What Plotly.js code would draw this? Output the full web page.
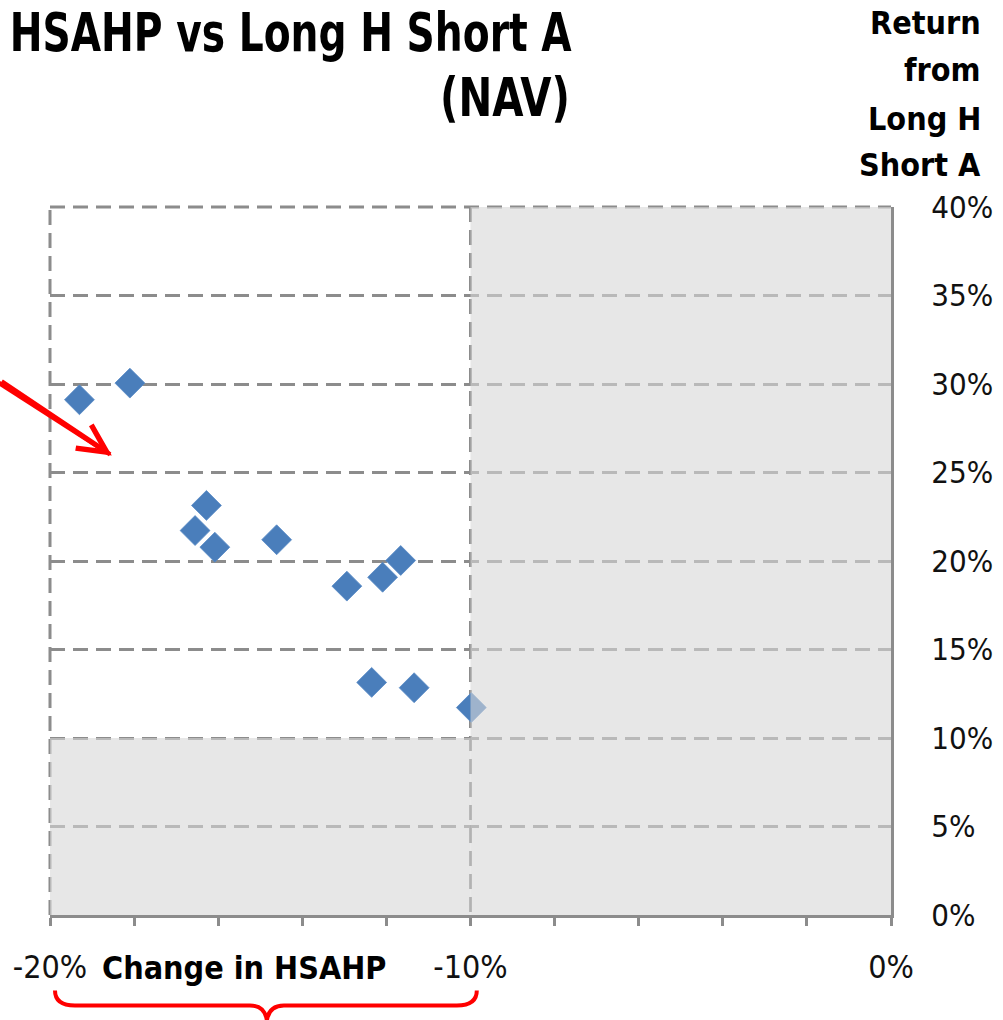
<!DOCTYPE html>
<html>
<head>
<meta charset="utf-8">
<script src="https://cdn.plot.ly/plotly-3.0.1.min.js"></script>
<style>
  html, body { margin: 0; padding: 0; background: #ffffff; }
  #chart { width: 1003px; height: 1020px; }
</style>
</head>
<body>
<div id="chart"></div>
<script>
// Change in HSAHP (%), x values
const changeHSAHP = [-19.30, -18.10, -16.28, -16.55, -16.08, -14.61, -12.94, -12.09, -11.66, -12.35, -11.34, -9.98];
// Return from Long H Short A (%), y values
const returnLongHShortA = [29.11, 30.05, 23.14, 21.72, 20.78, 21.20, 18.58, 19.08, 20.03, 13.14, 12.84, 11.72];

const xTickVals = [-20, -10, 0];
const xTickText = ['-20%', '-10%', '0%'];
const yTickVals = [0, 5, 10, 15, 20, 25, 30, 35, 40];
const yTickText = ['0%', '5%', '10%', '15%', '20%', '25%', '30%', '35%', '40%'];

const titleLines = ['HSAHP vs Long H Short A', '(NAV)'];
const yTitleLines = ['Return', 'from', 'Long H', 'Short A'];
const xTitle = 'Change in HSAHP';

const NARROW = '"DejaVu Sans Condensed", "DejaVu Sans", sans-serif';
const GRID = '#8c8c8c';

function cfont(size, weight) {
  return { family: NARROW, size: size, color: weight === 'bold' ? '#000000' : '#111111', weight: weight || 'normal', stretch: 'condensed' };
}

const trace = {
  type: 'scatter',
  mode: 'markers',
  x: changeHSAHP,
  y: returnLongHShortA,
  marker: { symbol: 'diamond', size: 23, color: '#4a7ebb', line: { width: 0.8, color: '#5b8cc6' } },
  hoverinfo: 'x+y',
  showlegend: false
};

const annotations = [];
const titleY = [1.2465, 1.1547];
titleLines.forEach((t, i) => annotations.push({
  xref: 'paper', yref: 'paper', x: 0.6207, y: titleY[i], xanchor: 'right', yanchor: 'middle',
  text: t, showarrow: false, font: cfont(54, 'bold')
}));
const yTitleY = [1.2592, 1.1928, 1.125, 1.060];
yTitleLines.forEach((t, i) => annotations.push({
  xref: 'paper', yref: 'paper', x: 1.1094, y: yTitleY[i], xanchor: 'right', yanchor: 'middle',
  text: t, showarrow: false, font: cfont(32, 'bold')
}));
annotations.push({
  xref: 'paper', yref: 'paper', x: 0.2307, y: -0.0742, xanchor: 'center', yanchor: 'middle',
  text: xTitle, showarrow: false, font: cfont(32, 'bold')
});
annotations.push({
  xref: 'x', yref: 'y', x: -18.53, y: 25.96, ax: -117, ay: -75,
  text: '', showarrow: true, arrowhead: 5, arrowsize: 1.1, arrowwidth: 5, arrowcolor: '#ff0000'
});

const DASH = '15px,8px';
const shapes = [
  // boundary dashed grid lines (left edge at -20% and top at 40%)
  { type: 'line', xref: 'paper', yref: 'y', x0: 0, x1: 0, y0: 0, y1: 40, layer: 'below',
    line: { color: GRID, width: 3, dash: DASH } },
  { type: 'line', xref: 'x', yref: 'paper', x0: -20, x1: 0, y0: 1, y1: 1, layer: 'below',
    line: { color: GRID, width: 3, dash: DASH } },
  // shaded regions
  { type: 'rect', xref: 'x', yref: 'y', x0: -10, x1: 0, y0: 0, y1: 40, layer: 'above',
    fillcolor: 'rgba(215,215,215,0.6)', line: { width: 0 } },
  { type: 'rect', xref: 'x', yref: 'y', x0: -20, x1: -10, y0: 0, y1: 10, layer: 'above',
    fillcolor: 'rgba(215,215,215,0.6)', line: { width: 0 } },
  // red arrow shaft (head drawn by the annotation)
  { type: 'line', xref: 'paper', yref: 'paper', x0: -0.0654, y0: 0.755, x1: 0.0715, y1: 0.6505, layer: 'above',
    line: { color: '#ff0000', width: 4.5 } },
  // red brace under the -20% .. -10% range
  { type: 'path', xref: 'x', yref: 'paper', layer: 'above',
    path: 'M-19.881,-0.1066 Q-19.881,-0.1278 -19.406,-0.1278 L-15.246,-0.1278 Q-14.889,-0.1278 -14.842,-0.149 Q-14.794,-0.1278 -14.438,-0.1278 L-10.326,-0.1278 Q-9.850,-0.1278 -9.850,-0.1066',
    line: { color: '#ff0000', width: 4 } }
];

const layout = {
  width: 1003, height: 1020,
  margin: { l: 50, r: 112, t: 207, b: 105 },
  paper_bgcolor: '#ffffff', plot_bgcolor: '#ffffff',
  font: { family: NARROW, color: '#111111' },
  xaxis: {
    range: [-20, 0], tickvals: xTickVals, ticktext: xTickText,
    showgrid: true, gridcolor: GRID, gridwidth: 3, griddash: DASH,
    zeroline: false, showline: true, linecolor: GRID, linewidth: 3,
    ticks: 'outside', ticklen: 8, tickwidth: 3, tickcolor: GRID,
    ticklabelstandoff: 14,
    tickfont: cfont(32),
    minor: { dtick: 2, tick0: -20, ticks: 'outside', ticklen: 8, tickwidth: 3, tickcolor: GRID, showgrid: false },
    fixedrange: true
  },
  yaxis: {
    range: [0, 40], side: 'right', tickvals: yTickVals, ticktext: yTickText,
    showgrid: true, gridcolor: GRID, gridwidth: 3, griddash: DASH,
    zeroline: false, showline: true, linecolor: GRID, linewidth: 3,
    ticks: '', ticklabelstandoff: 31,
    tickfont: cfont(31),
    fixedrange: true
  },
  annotations: annotations,
  shapes: shapes,
  showlegend: false
};

// condensed fitting of the title text (width and right edge as in the original)
const titleFit = {};
titleFit[titleLines[0]] = { w: 562, right: 572 };
titleFit[titleLines[1]] = { w: 130, right: 570 };

Plotly.newPlot('chart', [trace], layout, { displayModeBar: false, staticPlot: true }).then(gd => {
  gd.querySelectorAll('text.annotation-text').forEach(t => {
    const spec = titleFit[t.textContent];
    if (!spec) return;
    t.setAttribute('textLength', spec.w);
    t.setAttribute('lengthAdjust', 'spacingAndGlyphs');
    const r = t.getBoundingClientRect();
    const dx = spec.right - r.right;
    const x0 = parseFloat(t.getAttribute('x') || '0');
    t.setAttribute('x', x0 + dx);
  });
});
</script>
</body>
</html>
